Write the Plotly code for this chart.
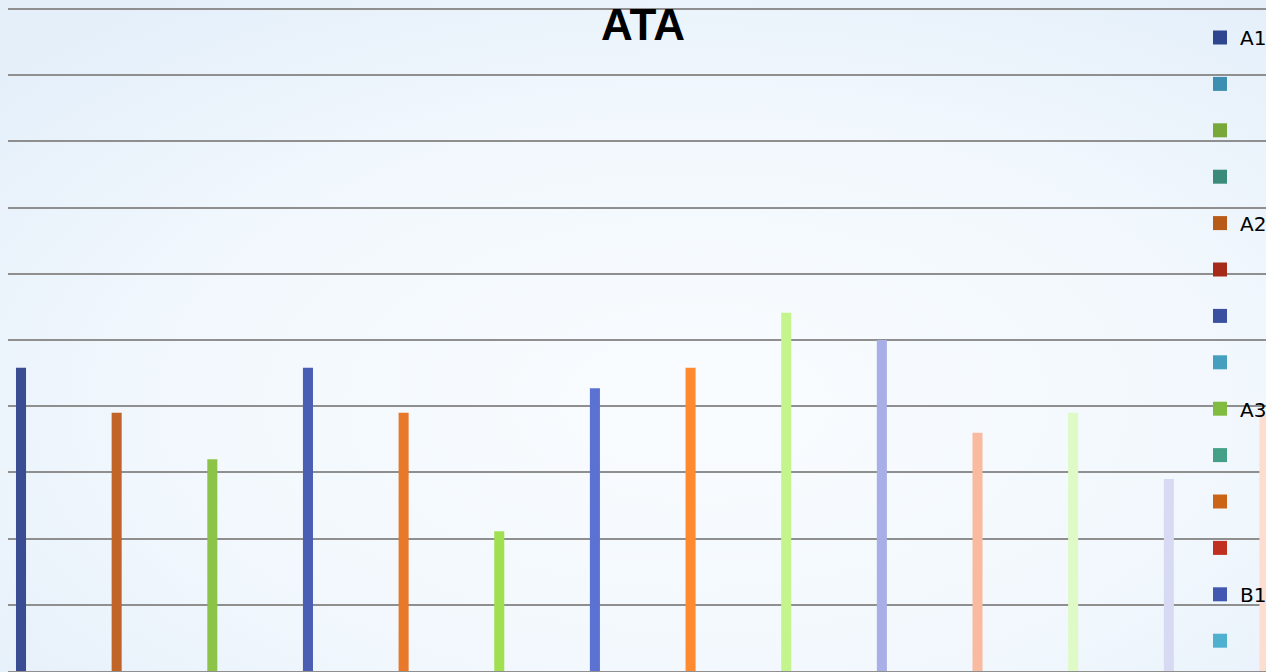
import plotly.graph_objects as go
import base64

# ---- data ----
categories = [str(i) for i in range(1, 15)]
values = [4.58, 3.9, 3.2, 4.58, 3.9, 2.11, 4.27, 4.58, 5.41, 5.0, 3.6, 3.9, 2.9, 3.9]
bar_colors = ["#3A4D92", "#C06428", "#8CC44A", "#4A5EB4", "#E8782A", "#A0E050", "#5B72D2",
              "#FF8A30", "#C4F58C", "#A8AEE6", "#FABAA0", "#DEFAC6", "#D8DAF4", "#FDDDD0"]
legend_names = ["A1", " ", " ", " ", "A2", " ", " ", " ", "A3", " ", " ", " ", "B1", " "]
legend_colors = ["#2E4590", "#3C8FB0", "#78A83A", "#3A8C78", "#B85A18", "#A52A1A", "#3A50A0",
                 "#45A0C0", "#80BC40", "#45A088", "#CC6418", "#C03020", "#4058B0", "#50B0D0"]
title_text = "ATA"

W, H = 1266, 672

fig = go.Figure()
fig.add_trace(go.Bar(x=categories, y=values, marker=dict(color=bar_colors, line=dict(width=0)),
                     width=0.105, showlegend=False, hoverinfo="y"))
for i, (nm, c) in enumerate(zip(legend_names, legend_colors)):
    fig.add_trace(go.Scatter(x=[None], y=[None], mode="markers", name=nm,
                             legendgroup=f"g{i}",
                             marker=dict(symbol="square", size=14, color=c, line=dict(width=0))))

svg = f'''<svg xmlns="http://www.w3.org/2000/svg" width="{W}" height="{H}">
<defs><radialGradient id="g" cx="55%" cy="60%" r="75%">
<stop offset="0" stop-color="#F9FCFF"/><stop offset="0.55" stop-color="#F2F8FD"/>
<stop offset="1" stop-color="#E4EFFA"/></radialGradient></defs>
<rect width="100%" height="100%" fill="url(#g)"/></svg>'''
src = "data:image/svg+xml;base64," + base64.b64encode(svg.encode()).decode()

fig.update_layout(
    width=W, height=H,
    margin=dict(l=8, r=0, t=0, b=1, autoexpand=False),
    paper_bgcolor="#EEF5FC",
    plot_bgcolor="rgba(0,0,0,0)",
    images=[dict(source=src, xref="paper", yref="paper", x=-8/1258, y=1,
                 sizex=W/1258, sizey=H/671, xanchor="left", yanchor="top",
                 sizing="stretch", layer="below")],
    title=dict(text=title_text, x=643/W, y=1-25/H, xref="container", yref="container",
               xanchor="center", yanchor="middle",
               font=dict(family="Liberation Sans, Arial", size=44, color="#000000", weight="bold")),
    xaxis=dict(type="category", range=[-0.136, 13.016], showticklabels=False, ticks="",
               showgrid=False, zeroline=False, showline=True, linecolor="#8F8F8F", linewidth=2),
    yaxis=dict(range=[0, 10.136], dtick=1, tick0=0, showticklabels=False, ticks="",
               showgrid=True, gridcolor="#8F8F8F", gridwidth=2, zeroline=False),
    legend=dict(x=(1200-8)/1258, y=1-18/671, xanchor="left", yanchor="top",
                bgcolor="rgba(0,0,0,0)", borderwidth=0, tracegroupgap=17.4,
                font=dict(family="DejaVu Sans", size=20, color="#000000")),
    showlegend=True,
)

fig.write_html("out.html", config={"displayModeBar": False},
               post_script="document.body.style.margin='0';document.body.style.overflow='hidden';")
